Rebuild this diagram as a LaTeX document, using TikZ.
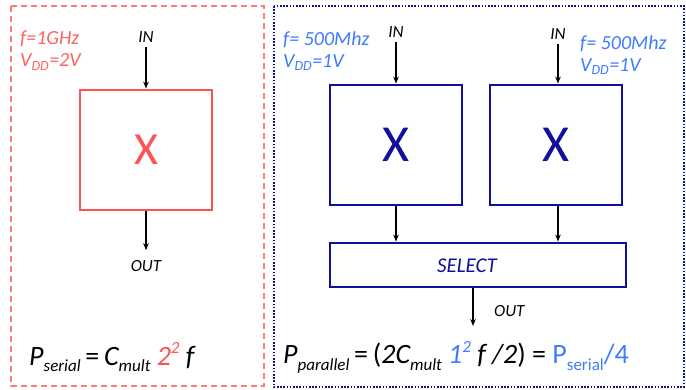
\documentclass[tikz,border=0pt]{standalone}
\usepackage{fontspec}
\setmainfont{Carlito}
\usetikzlibrary{arrows.meta,positioning}
\definecolor{serialred}{HTML}{FF5252}
\definecolor{paramred}{HTML}{FF6262}
\definecolor{parnavy}{HTML}{10109A}
\definecolor{parblue}{HTML}{3F7CFF}
% smaller sub- and superscripts, as in the slide
\newcommand\lowtxt[1]{\raisebox{-0.22em}{\fontsize{17}{17}\selectfont #1}}
\newcommand\hightxt[1]{\raisebox{0.42em}{\fontsize{17}{17}\selectfont #1}}

\tikzset{
  multbox/.style={draw, line width=2.8pt, minimum width=132pt, minimum height=120pt, inner sep=0pt},
  sig/.style={font=\fontsize{17}{20}\selectfont\itshape, inner sep=1pt},
  wire/.style={-{Stealth[length=7pt,width=5.5pt]}, line width=1.4pt},
  param/.style={font=\fontsize{20}{22}\selectfont\itshape, align=left, anchor=north west, inner sep=0pt},
  formula/.style={font=\fontsize{28}{28}\selectfont, anchor=west, inner sep=0pt},
}

\begin{document}
\begin{tikzpicture}[x=1pt,y=-1pt]
  \useasboundingbox (0,0) rectangle (686,389);
  % the two frames
  \draw[paramred!85, line width=1.2pt, dash pattern=on 6pt off 4pt] (11,6) rectangle (264,386);
  \draw[parnavy, line width=2.2pt, dash pattern=on 1.6pt off 1.6pt] (274,6) rectangle (684,387);

  % serial multiplier
  \node[multbox, draw=serialred, text=serialred, font=\fontsize{46}{46}\selectfont] (xs) at (146,150) {X};
  \node[sig] (ins) at (146,37) {IN};
  \node[sig] (outs) at (146,266) {OUT};
  \draw[wire, shorten <=3pt] (ins) -- (xs);
  \draw[wire, shorten >=9pt] (xs) -- (outs);
  \node[param, text=paramred] (fs) at (20,31) {f=1GHz\\V\textsubscript{DD}=2V};

  % parallel multipliers
  \node[multbox, draw=parnavy, text=parnavy, font=\fontsize{52}{52}\selectfont] (xa) at (396,145) {X};
  \node[multbox, draw=parnavy, text=parnavy, font=\fontsize{52}{52}\selectfont] (xb) at (556,145) {X};
  \node[draw=parnavy, line width=2.8pt, minimum width=296pt, minimum height=44pt] (sel) at (478,265) {};
  \node[text=parnavy, font=\fontsize{21}{21}\selectfont\itshape] (sellabel) at (467,266) {SELECT};
  \node[sig] (ina) at (396,32) {IN};
  \node[sig] (inb) at (558,34) {IN};
  \coordinate (outend) at (473,326);
  \node[sig, anchor=west] (outp) at (493,311) {OUT};
  \draw[wire, shorten <=3pt] (ina) -- (ina |- xa.north);
  \draw[wire, shorten <=3pt] (inb) -- (inb |- xb.north);
  \draw[wire] (ina |- xa.south) -- (ina |- sel.north);
  \draw[wire] (inb |- xb.south) -- (inb |- sel.north);
  \draw[wire] (sel.south -| outend) -- (outend);
  \node[param, text=parblue] (fa) at (283,31) {f= 500Mhz\\V\textsubscript{DD}=1V};
  \node[param, text=parblue] (fb) at (580,35) {f= 500Mhz\\V\textsubscript{DD}=1V};

  % power formulas
  \node[formula] (pser) at (29,357) {\textit{P\lowtxt{serial}}\,=\,\textit{C\lowtxt{mult}} \textcolor{serialred}{\textit{2\hightxt{2}}} \textit{f}};
  \node[formula] (ppar) at (283,357) {\textit{P\lowtxt{parallel}}\,=\,(\textit{2C\lowtxt{mult}} \textcolor{parblue}{\textit{1\hightxt{2}}} \textit{f /2}) = \textcolor{parblue}{P\lowtxt{serial}/4}};
\end{tikzpicture}
\end{document}
